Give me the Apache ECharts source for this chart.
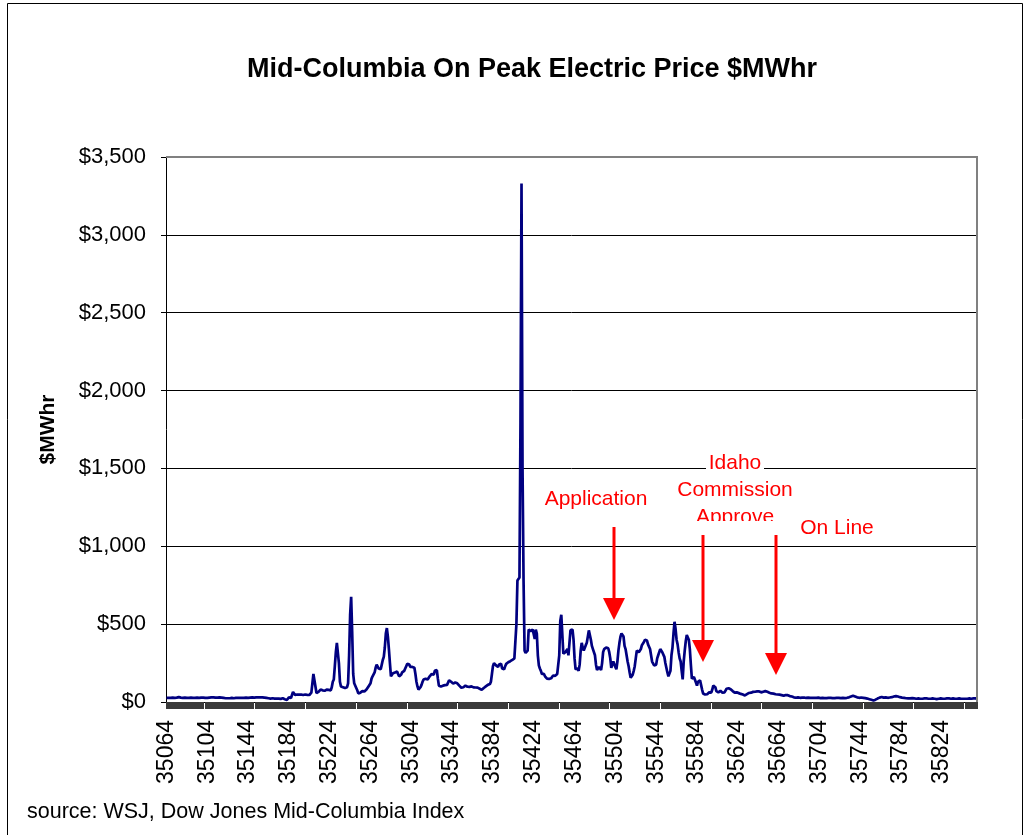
<!DOCTYPE html>
<html>
<head>
<meta charset="utf-8">
<script src="https://cdn.jsdelivr.net/npm/echarts@6.0.0/dist/echarts.min.js"></script>
<style>
  html, body { margin: 0; padding: 0; background: #fff; }
  #chart { width: 1025px; height: 835px; }
</style>
</head>
<body>
<div id="chart"></div>
<script>
// 日序号起点（Excel 日期序号）
var firstDay = 35064;

// 每日价格 $/MWhr
var price = [
  27,28,27,26,27,29,28,27,26,27,
  28,30,31,30,28,27,26,27,28,27,
  26,25,26,27,28,27,26,25,26,27,
  28,27,26,27,28,29,28,27,26,25,
  26,27,28,29,30,31,30,29,28,27,
  28,29,30,29,28,27,26,25,24,25,
  24,23,24,25,26,25,24,25,26,27,
  26,25,26,27,26,25,26,27,28,27,
  26,27,28,29,30,29,28,29,30,31,
  30,29,30,31,30,29,28,27,26,25,
  24,23,22,23,24,23,22,21,22,23,
  22,21,20,22,24,22,18,15,13,16,
  30,18,25,45,65,55,45,46,48,50,
  47,45,48,46,45,47,48,50,46,44,
  45,48,60,120,180,175,100,58,55,65,
  60,80,70,75,85,72,70,80,90,78,
  82,75,95,130,145,230,320,380,370,250,
  130,100,90,95,85,90,100,95,120,300,
  560,675,450,180,120,110,90,75,55,45,
  60,65,70,62,68,75,80,90,100,105,
  120,150,165,160,190,220,240,235,215,205,
  210,240,270,290,350,440,475,420,340,250,
  165,175,185,180,190,200,195,185,165,160,
  175,190,185,200,215,230,245,250,240,225,
  215,225,235,220,180,130,100,80,78,95,
  110,130,145,140,150,160,145,150,165,170,
  180,190,175,200,210,205,150,105,100,100,
  95,105,100,108,105,110,120,140,145,130,
  120,118,115,125,128,120,112,105,100,92,
  88,95,100,105,102,98,100,97,95,100,
  96,94,98,93,95,92,88,85,80,78,
  82,90,95,100,105,110,112,115,130,180,
  230,250,245,235,230,225,240,250,245,215,
  205,210,230,245,250,255,260,262,265,270,
  272,280,285,500,780,770,800,1800,3330,1500,
  780,330,315,320,330,465,470,455,460,465,
  462,405,465,440,300,235,215,200,180,175,
  180,165,160,150,145,148,155,152,160,170,
  175,168,178,180,185,300,520,560,555,310,
  300,320,310,340,300,380,460,470,465,400,
  280,210,205,215,200,240,330,380,350,330,
  340,365,380,420,460,450,400,360,340,335,
  300,240,205,215,225,215,205,250,320,340,
  345,350,355,345,320,280,220,240,260,250,
  225,210,260,330,380,420,440,450,420,360,
  340,300,260,230,190,155,160,175,200,230,
  280,330,340,320,310,340,365,370,385,400,
  410,395,370,360,340,300,260,250,235,230,
  240,280,300,320,340,335,320,315,290,250,
  220,190,165,160,200,300,350,440,515,470,
  400,370,320,280,260,200,145,260,330,390,
  430,440,400,340,240,150,145,160,170,125,
  105,130,120,140,110,80,55,45,48,52,
  50,55,62,58,60,80,105,110,95,70,
  60,62,70,72,65,60,58,62,70,85,
  92,88,80,82,78,70,62,60,58,62,
  60,57,55,52,50,48,45,42,45,50,
  55,58,55,60,62,65,68,66,64,68,
  70,68,65,62,64,66,68,70,68,66,
  64,60,58,55,56,54,52,50,52,48,
  45,47,50,44,42,40,42,45,48,44,
  40,38,36,35,34,30,28,27,29,30,
  28,27,26,28,30,29,27,26,27,28,
  27,26,25,27,28,26,25,26,27,28,
  26,25,26,27,26,25,24,25,26,27,
  28,27,26,25,24,25,26,27,28,27,
  26,25,26,27,26,25,26,27,28,30,
  32,35,38,40,38,35,32,30,28,27,
  28,29,28,27,26,25,24,22,20,18,
  16,14,12,10,12,15,18,22,25,28,
  30,32,30,28,29,30,26,27,28,29,
  30,31,33,35,37,38,37,35,33,31,
  29,28,27,26,25,24,24,23,22,23,
  24,25,24,23,22,21,22,23,22,21,
  20,21,22,23,24,23,22,21,20,21,
  22,23,22,21,20,19,20,21,22,23,
  22,21,20,21,22,23,24,23,22,21,
  22,23,22,21,20,21,22,23,22,21,
  20,21,22,21,20,21,22,23,22,21,
  22,23,24,23,22
];

var days = [];
for (var i = 0; i < price.length; i++) {
  days.push(String(firstDay + i));
}

// y 轴刻度
var yMin = 0;
var yMax = 3500;
var yStep = 500;

var font = '"Liberation Sans", Arial, sans-serif';

var chart = echarts.init(document.getElementById('chart'));

// 网格线颜色：最上面那条是灰色边框
var splitColors = ['#000', '#000', '#000', '#000', '#000', '#000', '#000', '#808080'];

var option = {
  animation: false,
  backgroundColor: '#fff',
  title: {
    text: 'Mid-Columbia On Peak Electric Price $MWhr',
    left: 527,
    top: 51,
    textAlign: 'center',
    textStyle: {
      fontFamily: font,
      fontSize: 27,
      fontWeight: 'bold',
      color: '#000'
    }
  },
  grid: {
    left: 166,
    top: 157,
    width: 811,
    height: 545,
    containLabel: false
  },
  xAxis: {
    type: 'category',
    data: days,
    boundaryGap: true,
    axisLine: {
      show: true,
      lineStyle: { color: '#000', width: 1 }
    },
    axisTick: {
      show: true,
      interval: 0,
      alignWithLabel: false,
      length: 7,
      lineStyle: { color: '#3a3a3a', width: 1 }
    },
    axisLabel: {
      interval: 39,
      rotate: 90,
      margin: 18,
      fontFamily: font,
      fontSize: 23,
      color: '#000'
    },
    splitLine: { show: false }
  },
  yAxis: {
    type: 'value',
    min: yMin,
    max: yMax,
    interval: yStep,
    name: '$MWhr',
    nameLocation: 'middle',
    nameGap: 107,
    nameTextStyle: {
      fontFamily: font,
      fontSize: 21,
      fontWeight: 'bold',
      color: '#000'
    },
    axisLine: {
      show: true,
      lineStyle: { color: '#000', width: 1 }
    },
    axisTick: {
      show: true,
      length: 5,
      lineStyle: { color: '#000' }
    },
    axisLabel: {
      margin: 20,
      fontFamily: font,
      fontSize: 22,
      color: '#000',
      formatter: function (v) {
        return '$' + v.toLocaleString('en-US');
      }
    },
    splitLine: {
      show: true,
      lineStyle: { color: splitColors, width: 1 }
    }
  },
  series: [{
    name: 'Mid-C On Peak',
    type: 'line',
    data: price,
    showSymbol: false,
    symbol: 'none',
    smooth: false,
    silent: true,
    lineStyle: { color: '#000080', width: 2.7 },
    itemStyle: { color: '#000080' }
  }],
  graphic: [
    // 外框
    {
      type: 'rect',
      shape: { x: 7.5, y: 3.5, width: 1015, height: 900 },
      style: { fill: 'none', stroke: '#000', lineWidth: 1 },
      silent: true
    },
    // 绘图区上、右边框
    {
      type: 'polyline',
      shape: { points: [[166, 157], [977, 157], [977, 702]] },
      style: { fill: 'none', stroke: '#808080', lineWidth: 2 },
      silent: true, z: 5
    },
    // Idaho 字后面的白底，把网格线断开
    {
      type: 'rect',
      shape: { x: 706, y: 452, width: 58, height: 24 },
      style: { fill: '#fff' },
      silent: true, z: 10
    },
    {
      type: 'text',
      x: 596, y: 499,
      style: { text: 'Application', fill: '#ff0000', font: '21px ' + font, textAlign: 'center', textVerticalAlign: 'middle' },
      silent: true, z: 11
    },
    {
      type: 'text',
      x: 735, y: 463,
      style: { text: 'Idaho', fill: '#ff0000', font: '21px ' + font, textAlign: 'center', textVerticalAlign: 'middle' },
      silent: true, z: 11
    },
    {
      type: 'text',
      x: 735, y: 490,
      style: { text: 'Commission', fill: '#ff0000', font: '21px ' + font, textAlign: 'center', textVerticalAlign: 'middle' },
      silent: true, z: 11
    },
    {
      type: 'text',
      x: 735, y: 517,
      style: { text: 'Approve', fill: '#ff0000', font: '21px ' + font, textAlign: 'center', textVerticalAlign: 'middle' },
      silent: true, z: 11
    },
    // 文本框下沿把 Approve 截掉一截
    {
      type: 'rect',
      shape: { x: 673, y: 521, width: 124, height: 9 },
      style: { fill: '#fff' },
      silent: true, z: 12
    },
    {
      type: 'text',
      x: 837, y: 528,
      style: { text: 'On Line', fill: '#ff0000', font: '21px ' + font, textAlign: 'center', textVerticalAlign: 'middle' },
      silent: true, z: 11
    },
    // 箭头
    {
      type: 'line',
      shape: { x1: 614, y1: 527, x2: 614, y2: 600 },
      style: { stroke: '#ff0000', lineWidth: 3 },
      silent: true, z: 11
    },
    {
      type: 'polygon',
      shape: { points: [[603, 598], [625, 598], [614, 620]] },
      style: { fill: '#ff0000' },
      silent: true, z: 11
    },
    {
      type: 'line',
      shape: { x1: 703, y1: 535, x2: 703, y2: 642 },
      style: { stroke: '#ff0000', lineWidth: 3 },
      silent: true, z: 11
    },
    {
      type: 'polygon',
      shape: { points: [[692, 640], [714, 640], [703, 662]] },
      style: { fill: '#ff0000' },
      silent: true, z: 11
    },
    {
      type: 'line',
      shape: { x1: 776, y1: 535, x2: 776, y2: 655 },
      style: { stroke: '#ff0000', lineWidth: 3 },
      silent: true, z: 11
    },
    {
      type: 'polygon',
      shape: { points: [[765, 653], [787, 653], [776, 675]] },
      style: { fill: '#ff0000' },
      silent: true, z: 11
    },
    // 数据来源
    {
      type: 'text',
      x: 27, y: 812,
      style: { text: 'source: WSJ, Dow Jones Mid-Columbia Index', fill: '#000', font: '21.5px ' + font, textAlign: 'left', textVerticalAlign: 'middle' },
      silent: true
    }
  ]
};

chart.setOption(option);
</script>
</body>
</html>
